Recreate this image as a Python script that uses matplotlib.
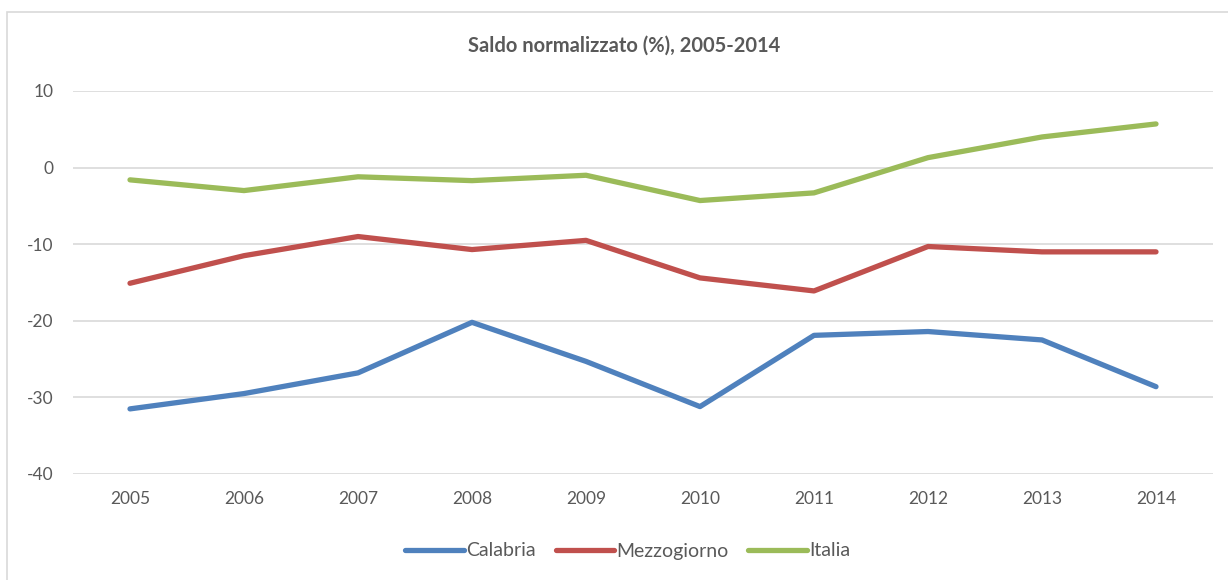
import matplotlib
matplotlib.use("Agg")
import matplotlib.pyplot as plt
from matplotlib.patches import Rectangle

years = ["2005", "2006", "2007", "2008", "2009", "2010", "2011", "2012", "2013", "2014"]
calabria = [-31.5, -29.5, -26.8, -20.2, -25.3, -31.2, -21.9, -21.4, -22.5, -28.6]
mezzogiorno = [-15.1, -11.5, -9.0, -10.7, -9.5, -14.4, -16.1, -10.3, -11.0, -11.0]
italia = [-1.6, -3.0, -1.2, -1.7, -1.0, -4.3, -3.3, 1.3, 4.0, 5.7]
yticks = [-40, -30, -20, -10, 0, 10]

plt.rcParams['font.family'] = ['Lato', 'DejaVu Sans']
plt.rcParams['axes.unicode_minus'] = False
W, H = 1228, 580
fig = plt.figure(figsize=(W/100, H/100), dpi=100)
fig.patches.append(Rectangle((7/W, -0.01), 1.05, 1 - 12/H + 0.01, transform=fig.transFigure,
                             fill=False, edgecolor='#D9D9D9', linewidth=1.2))
ax = fig.add_axes([73/W, (H-474)/H, (1213-73)/W, (474-91)/H])
x = range(len(years))
grey = '#595959'
ax.plot(x, calabria, color='#4F81BD', lw=3.8, label='Calabria', solid_capstyle='round')
ax.plot(x, mezzogiorno, color='#C0504D', lw=3.8, label='Mezzogiorno', solid_capstyle='round')
ax.plot(x, italia, color='#9BBB59', lw=3.8, label='Italia', solid_capstyle='round')
ax.set_xlim(-0.5, len(years) - 0.5)
ax.set_ylim(-40, 10)
ax.set_yticks(yticks)
ax.set_xticks(list(x))
ax.set_xticklabels(years)
ax.grid(axis='y', color='#D9D9D9', lw=1.2)
ax.set_axisbelow(True)
for s in ax.spines.values():
    s.set_visible(False)
ax.tick_params(length=0, colors=grey, labelsize=12.5)
ax.tick_params(axis='x', pad=12)
ax.tick_params(axis='y', pad=14)
fig.text(624/W, 1 - 46/H, 'Saldo normalizzato (%), 2005-2014',
         ha='center', va='center', fontsize=14.5, fontweight='bold', color=grey)
leg = fig.legend(loc='center', bbox_to_anchor=(628/W, 1 - 551/H), ncol=3, frameon=False,
                 fontsize=14, handlelength=3.0, handletextpad=0.15, columnspacing=1.0)
for t in leg.get_texts():
    t.set_color(grey)
fig.savefig('out.png', dpi=100)
